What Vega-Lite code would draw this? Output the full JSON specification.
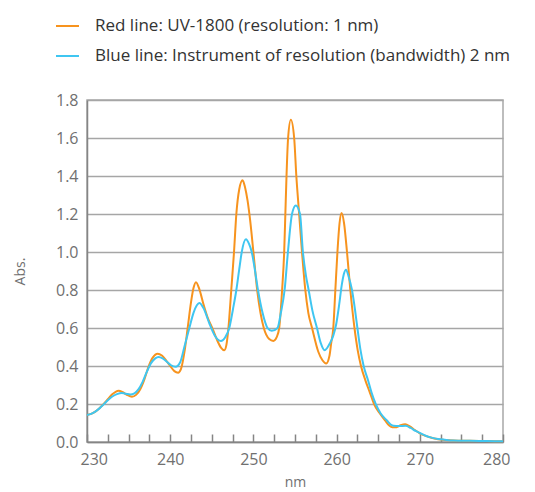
{
 "$schema": "https://vega.github.io/schema/vega-lite/v6.json",
 "width": 416,
 "height": 342,
 "autosize": {"type": "none"},
 "padding": {"left": 87, "top": 100, "right": 32, "bottom": 50},
 "config": {"font": "Open Sans", "view": {"stroke": "#a8a8a8", "strokeWidth": 1.5}},
 "datasets": {
  "red": [
   {"nm":230,"A":0.142},{"nm":230.5,"A":0.148},{"nm":231,"A":0.16},{"nm":231.5,"A":0.178},{"nm":232,"A":0.2},
   {"nm":232.5,"A":0.225},{"nm":233,"A":0.25},{"nm":233.4,"A":0.263},{"nm":233.8,"A":0.27},{"nm":234.3,"A":0.262},
   {"nm":234.8,"A":0.248},{"nm":235.4,"A":0.238},{"nm":235.9,"A":0.248},{"nm":236.4,"A":0.278},{"nm":236.9,"A":0.33},
   {"nm":237.4,"A":0.397},{"nm":237.9,"A":0.444},{"nm":238.5,"A":0.465},{"nm":239.0,"A":0.455},{"nm":239.5,"A":0.43},
   {"nm":240.0,"A":0.4},{"nm":240.5,"A":0.373},{"nm":240.95,"A":0.365},{"nm":241.3,"A":0.385},{"nm":241.7,"A":0.47},
   {"nm":242.1,"A":0.6},{"nm":242.5,"A":0.735},{"nm":242.8,"A":0.81},{"nm":243.1,"A":0.841},{"nm":243.5,"A":0.805},
   {"nm":244.0,"A":0.725},{"nm":244.5,"A":0.655},{"nm":245.1,"A":0.595},{"nm":245.6,"A":0.54},{"nm":246.1,"A":0.497},
   {"nm":246.5,"A":0.483},{"nm":246.75,"A":0.51},{"nm":247.0,"A":0.6},{"nm":247.34,"A":0.8},{"nm":247.67,"A":1.0},
   {"nm":247.95,"A":1.2},{"nm":248.3,"A":1.33},{"nm":248.7,"A":1.377},{"nm":249.0,"A":1.34},{"nm":249.3,"A":1.27},
   {"nm":249.6,"A":1.17},{"nm":250.0,"A":1.0},{"nm":250.45,"A":0.8},{"nm":250.85,"A":0.68},{"nm":251.25,"A":0.6},
   {"nm":251.9,"A":0.542},{"nm":252.4,"A":0.532},{"nm":252.8,"A":0.552},{"nm":253.1,"A":0.6},{"nm":253.45,"A":0.8},
   {"nm":253.7,"A":1.0},{"nm":253.84,"A":1.2},{"nm":253.98,"A":1.4},{"nm":254.17,"A":1.6},{"nm":254.5,"A":1.696},
   {"nm":254.9,"A":1.6},{"nm":255.16,"A":1.4},{"nm":255.5,"A":1.2},{"nm":255.84,"A":1.0},{"nm":256.24,"A":0.8},
   {"nm":256.6,"A":0.68},{"nm":257.05,"A":0.6},{"nm":257.8,"A":0.475},{"nm":258.3,"A":0.43},{"nm":258.75,"A":0.413},
   {"nm":259.15,"A":0.455},{"nm":259.35,"A":0.52},{"nm":259.6,"A":0.6},{"nm":259.85,"A":0.8},{"nm":260.1,"A":1.0},
   {"nm":260.35,"A":1.15},{"nm":260.6,"A":1.205},{"nm":260.9,"A":1.15},{"nm":261.25,"A":1.0},{"nm":261.65,"A":0.8},
   {"nm":262.15,"A":0.6},{"nm":262.55,"A":0.48},{"nm":262.93,"A":0.4},{"nm":263.45,"A":0.326},{"nm":264.0,"A":0.26},
   {"nm":264.5,"A":0.2},{"nm":265.2,"A":0.15},{"nm":265.85,"A":0.112},{"nm":266.3,"A":0.088},{"nm":266.7,"A":0.077},
   {"nm":267.2,"A":0.078},{"nm":267.7,"A":0.088},{"nm":268.25,"A":0.093},{"nm":268.8,"A":0.082},{"nm":269.4,"A":0.063},
   {"nm":270.0,"A":0.046},{"nm":270.7,"A":0.032},{"nm":271.4,"A":0.022},{"nm":272.2,"A":0.015},{"nm":273,"A":0.011},
   {"nm":274,"A":0.008},{"nm":276,"A":0.006},{"nm":278,"A":0.005},{"nm":280,"A":0.004}
  ],
  "blue": [
   {"nm":230,"A":0.142},{"nm":230.5,"A":0.148},{"nm":231,"A":0.16},{"nm":231.5,"A":0.177},{"nm":232,"A":0.198},
   {"nm":232.5,"A":0.22},{"nm":233,"A":0.238},{"nm":233.6,"A":0.252},{"nm":234.2,"A":0.258},{"nm":234.7,"A":0.254},
   {"nm":235.2,"A":0.25},{"nm":235.7,"A":0.256},{"nm":236.2,"A":0.278},{"nm":236.7,"A":0.318},{"nm":237.2,"A":0.37},
   {"nm":237.7,"A":0.415},{"nm":238.2,"A":0.44},{"nm":238.6,"A":0.448},{"nm":239.1,"A":0.44},{"nm":239.6,"A":0.422},
   {"nm":240.1,"A":0.404},{"nm":240.65,"A":0.396},{"nm":241.2,"A":0.42},{"nm":241.7,"A":0.5},{"nm":242.3,"A":0.6},
   {"nm":242.8,"A":0.68},{"nm":243.2,"A":0.72},{"nm":243.5,"A":0.732},{"nm":244.0,"A":0.705},{"nm":244.7,"A":0.625},
   {"nm":245.3,"A":0.565},{"nm":245.7,"A":0.54},{"nm":246.1,"A":0.531},{"nm":246.6,"A":0.55},{"nm":247.1,"A":0.6},
   {"nm":247.55,"A":0.7},{"nm":247.95,"A":0.8},{"nm":248.3,"A":0.91},{"nm":248.6,"A":1.0},{"nm":249.1,"A":1.067},
   {"nm":249.5,"A":1.04},{"nm":249.8,"A":1.0},{"nm":250.2,"A":0.9},{"nm":250.55,"A":0.8},{"nm":251.1,"A":0.68},
   {"nm":251.7,"A":0.6},{"nm":252.2,"A":0.585},{"nm":252.9,"A":0.6},{"nm":253.3,"A":0.68},{"nm":253.75,"A":0.8},
   {"nm":254.15,"A":1.0},{"nm":254.64,"A":1.2},{"nm":255.1,"A":1.245},{"nm":255.6,"A":1.2},{"nm":255.95,"A":1.0},
   {"nm":256.3,"A":0.88},{"nm":256.64,"A":0.8},{"nm":257.1,"A":0.69},{"nm":257.64,"A":0.6},{"nm":258.1,"A":0.52},
   {"nm":258.56,"A":0.483},{"nm":259.2,"A":0.52},{"nm":259.6,"A":0.56},{"nm":259.95,"A":0.62},{"nm":260.3,"A":0.72},
   {"nm":260.6,"A":0.82},{"nm":260.85,"A":0.88},{"nm":261.13,"A":0.907},{"nm":261.45,"A":0.87},{"nm":261.85,"A":0.8},
   {"nm":262.2,"A":0.7},{"nm":262.5,"A":0.6},{"nm":262.85,"A":0.49},{"nm":263.25,"A":0.4},{"nm":263.77,"A":0.326},
   {"nm":264.2,"A":0.26},{"nm":264.7,"A":0.2},{"nm":265.3,"A":0.15},{"nm":266.05,"A":0.113},{"nm":266.5,"A":0.092},
   {"nm":266.85,"A":0.085},{"nm":267.5,"A":0.084},{"nm":268.3,"A":0.085},{"nm":268.9,"A":0.074},{"nm":269.5,"A":0.058},
   {"nm":270.06,"A":0.046},{"nm":270.7,"A":0.033},{"nm":271.4,"A":0.023},{"nm":272.2,"A":0.016},{"nm":273,"A":0.012},
   {"nm":274,"A":0.008},{"nm":276,"A":0.006},{"nm":278,"A":0.005},{"nm":280,"A":0.004}
  ]
 },
 "encoding": {
  "x": {
   "field": "nm", "type": "quantitative",
   "scale": {"domain": [230, 280], "nice": false, "zero": false},
   "axis": {
    "title": "nm",
    "values": [230,232.5,235,237.5,240,242.5,245,247.5,250,252.5,255,257.5,260,262.5,265,267.5,270,272.5,275,277.5,280],
    "labelExpr": "datum.value % 10 === 0 ? format(datum.value, 'd') : ''",
    "labelOverlap": false,
    "labelFlush": true, "labelFlushOffset": 7,
    "grid": false,
    "tickSize": -8, "tickColor": "#858585", "tickWidth": 1.5,
    "domainColor": "#858585", "domainWidth": 1.5,
    "labelFontSize": 16, "labelColor": "#707070", "labelPadding": 17,
    "titleFontSize": 14, "titleColor": "#707070", "titleFontWeight": "normal", "titlePadding": 8
   }
  },
  "y": {
   "field": "A", "type": "quantitative",
   "scale": {"domain": [0, 1.8], "nice": false},
   "axis": {
    "title": "Abs.",
    "values": [0,0.2,0.4,0.6,0.8,1.0,1.2,1.4,1.6,1.8],
    "format": ".1f",
    "ticks": false,
    "grid": true, "gridColor": "#a6a6a6", "gridWidth": 1.5,
    "domainColor": "#858585", "domainWidth": 1.5,
    "labelFontSize": 16, "labelColor": "#707070", "labelPadding": 9,
    "titleFontSize": 14, "titleColor": "#707070", "titleFontWeight": "normal", "titlePadding": 28
   }
  },
  "color": {
   "field": "s", "type": "nominal",
   "scale": {
    "domain": ["Red line: UV-1800 (resolution: 1 nm)", "Blue line: Instrument of resolution (bandwidth) 2 nm"],
    "range": ["#F7931E", "#3FC6F1"]
   },
   "legend": {
    "title": null, "orient": "none", "legendX": -32, "legendY": -86.5, "direction": "vertical",
    "symbolType": "stroke", "symbolSize": 529, "symbolStrokeWidth": 2,
    "labelFontSize": 17, "labelColor": "#333333", "labelOffset": 15, "labelLimit": 600,
    "rowPadding": 9, "padding": 0
   }
  }
 },
 "layer": [
  {
   "data": {"name": "red"},
   "transform": [{"calculate": "'Red line: UV-1800 (resolution: 1 nm)'", "as": "s"}],
   "mark": {"type": "line", "interpolate": "monotone", "strokeWidth": 2}
  },
  {
   "data": {"name": "blue"},
   "transform": [{"calculate": "'Blue line: Instrument of resolution (bandwidth) 2 nm'", "as": "s"}],
   "mark": {"type": "line", "interpolate": "monotone", "strokeWidth": 2}
  }
 ]
}
